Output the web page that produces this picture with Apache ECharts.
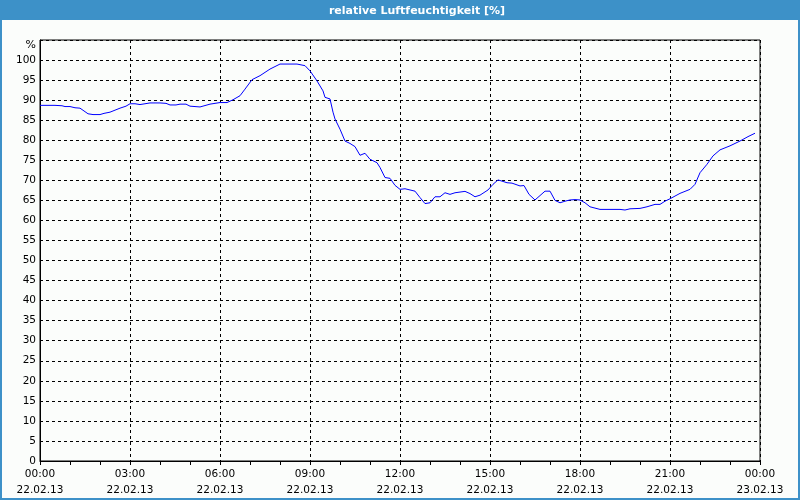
<!DOCTYPE html>
<html>
<head>
<meta charset="utf-8">
<script src="https://cdn.jsdelivr.net/npm/echarts@6/dist/echarts.min.js"></script>
<style>html,body{margin:0;padding:0;background:#fbfdfb;}#c{width:800px;height:500px;}</style>
</head>
<body>
<div id="c"></div>
<script>
// time in minutes since 22.02.13 00:00
var minutes = [0,30,44,50,60,70,80,88,96,106,120,128,140,150,160,172,180,190,200,210,220,240,252,260,272,280,292,300,320,340,360,374,386,400,410,424,440,460,480,514,530,540,554,566,570,580,586,590,600,610,620,630,640,650,660,674,680,690,700,710,720,730,750,760,770,780,790,800,810,820,830,850,860,870,880,896,906,916,924,934,944,960,968,978,990,1010,1020,1030,1040,1050,1060,1070,1080,1090,1100,1120,1140,1160,1170,1180,1200,1214,1230,1240,1250,1260,1280,1300,1310,1320,1334,1346,1360,1380,1400,1416,1430];
var humidity = [88.7,88.7,88.6,88.4,88.4,88.1,88.0,87.3,86.6,86.4,86.4,86.7,87.0,87.5,88.0,88.5,89.1,89.1,88.9,89.1,89.3,89.3,89.2,88.8,88.8,89.0,89.0,88.5,88.3,89.0,89.4,89.4,90.1,91.1,92.75,95.1,96.1,97.75,99.0,99.0,98.6,97.3,94.8,92.3,90.7,90.3,87.0,85.3,82.75,79.8,79.2,78.4,76.25,76.75,75.25,74.4,73.2,70.7,70.5,68.75,67.75,67.9,67.3,65.7,64.2,64.4,65.9,65.9,66.9,66.5,66.9,67.25,66.7,65.9,66.3,67.6,69.0,70.1,69.8,69.4,69.3,68.6,68.7,66.5,65.1,67.3,67.3,65.0,64.4,64.8,65.1,65.2,65.1,64.4,63.4,62.75,62.75,62.75,62.6,62.9,63.0,63.4,64.0,64.0,64.8,65.4,66.75,67.75,69.0,71.9,74.0,76.1,77.6,78.6,79.8,80.9,81.75];
var timeLabels = ['00:00','03:00','06:00','09:00','12:00','15:00','18:00','21:00','00:00'];
var dateLabels = ['22.02.13','22.02.13','22.02.13','22.02.13','22.02.13','22.02.13','22.02.13','22.02.13','23.02.13'];
var titleText = 'relative Luftfeuchtigkeit [%]';

var data = minutes.map(function(m, i){ return [m / 60, humidity[i]]; });
var font = 'DejaVu Sans';
var chart = echarts.init(document.getElementById('c'), null, {renderer: 'canvas'});
chart.setOption({
  backgroundColor: '#fbfdfb',
  animation: false,
  graphic: [
    {type: 'rect', left: 0, top: 0, shape: {width: 800, height: 20}, style: {fill: '#3d91c8'}, z: 10},
    {type: 'text', x: 417, y: 11, style: {text: titleText, fill: '#ffffff', font: 'bold 11px "DejaVu Sans"', textAlign: 'center', textVerticalAlign: 'middle'}, z: 11},
    {type: 'rect', shape: {x: 1, y: 1, width: 798, height: 498}, style: {fill: 'none', stroke: '#3d91c8', lineWidth: 2}, z: 12},
    {type: 'text', x: 36, y: 45, style: {text: '%', fill: '#000', font: '11px "DejaVu Sans"', textAlign: 'right', textVerticalAlign: 'middle'}, z: 11}
  ],
  grid: {left: 40, top: 40, width: 720, height: 421, show: true, borderColor: '#000', borderWidth: 1, backgroundColor: '#fbfdfb'},
  xAxis: {
    type: 'value', min: 0, max: 24, interval: 3,
    axisLine: {show: true, lineStyle: {color: '#000', width: 1}},
    axisTick: {show: true, length: 4, lineStyle: {color: '#000'}},
    minorTick: {show: true, splitNumber: 3, length: 4, lineStyle: {color: '#000'}},
    splitLine: {show: true, lineStyle: {color: '#000', type: [3, 3], width: 1}},
    axisLabel: {
      margin: 5, color: '#000', fontFamily: font, fontSize: 10.5, lineHeight: 16,
      formatter: function(v){ var i = Math.round(v / 3); return timeLabels[i] + '\n' + dateLabels[i]; }
    }
  },
  yAxis: {
    type: 'value', min: 0, max: 105, interval: 5,
    axisLine: {show: true, lineStyle: {color: '#000', width: 1}},
    axisTick: {show: false},
    splitLine: {show: true, lineStyle: {color: '#000', type: [3, 3], width: 1}},
    axisLabel: {
      margin: 4, color: '#000', fontFamily: font, fontSize: 10.5,
      formatter: function(v){ return v >= 105 ? '' : String(v); }
    }
  },
  series: [{
    type: 'line', data: data, showSymbol: false, smooth: false,
    lineStyle: {color: '#0000ff', width: 1}, itemStyle: {color: '#0000ff'}
  }]
});
</script>
</body>
</html>
